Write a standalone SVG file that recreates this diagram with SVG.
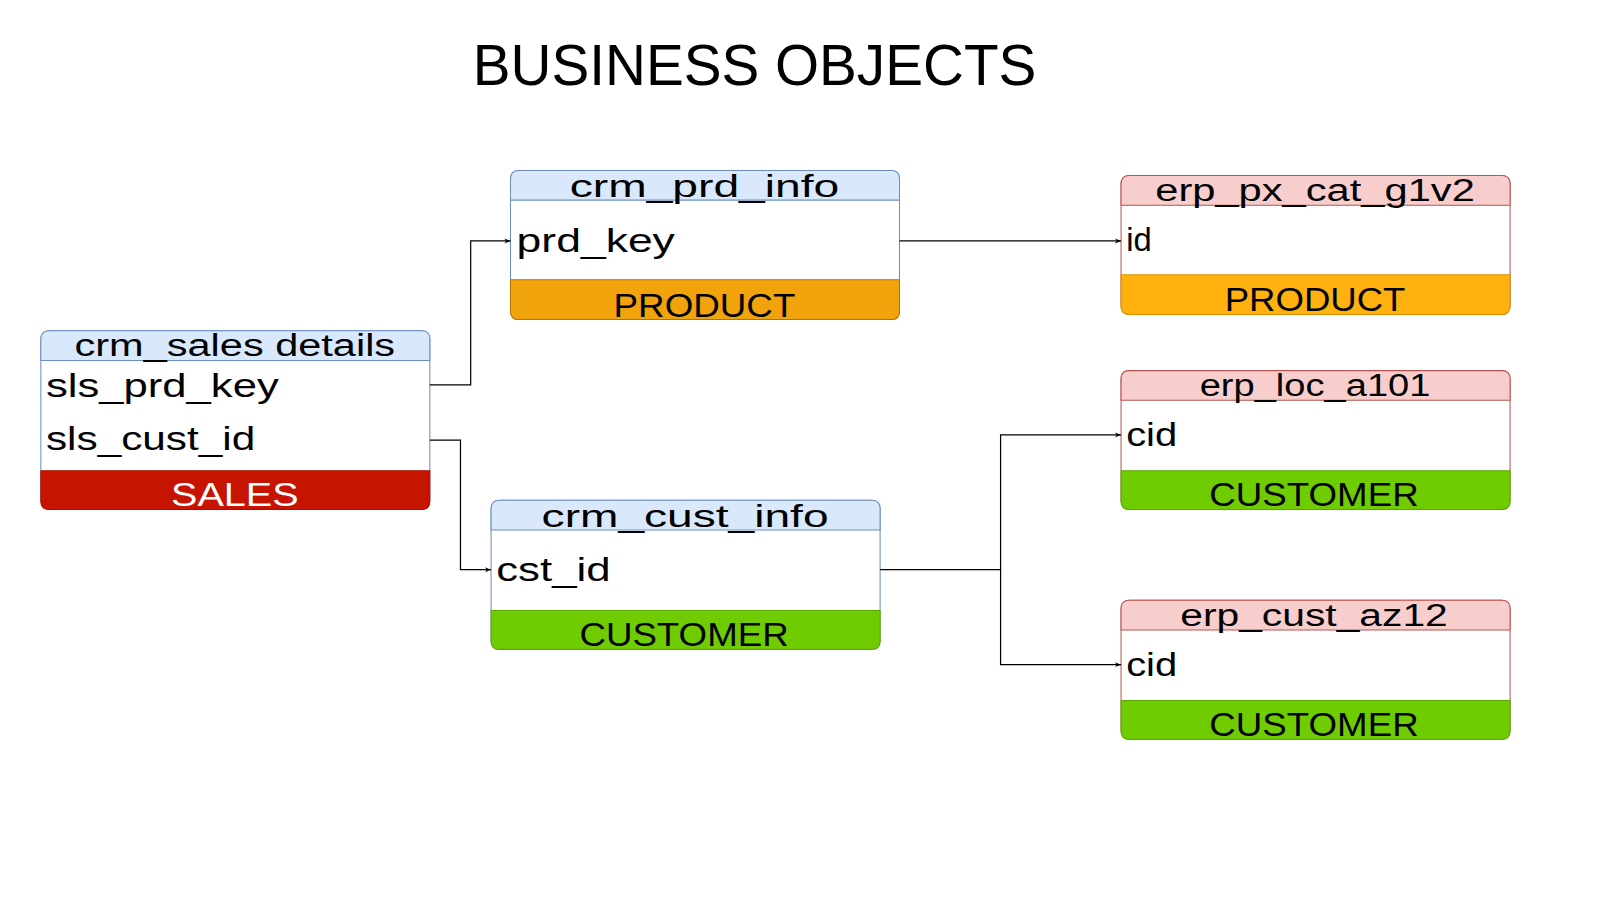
<svg xmlns="http://www.w3.org/2000/svg" width="1601" height="901" viewBox="0 0 1601 901">
<defs>
<style>
text{font-family:"Liberation Sans",Arial,sans-serif;fill:#000}
.title{font-size:56px}
.hdr{font-size:31px;text-anchor:middle}
.row{font-size:33px}
.ftr{font-size:33px;text-anchor:middle}
.body{fill:#fff}
.blue{stroke:#6c8ebf}
.pink{stroke:#b85450}
.hb{fill:#dae8fc;stroke:#6c8ebf}
.hp{fill:#f8cecc;stroke:#b85450}
.fred{fill:#c61400;stroke:#a81000}
.forg{fill:#f0a30a;stroke:#bd7000}
.fyel{fill:#ffb20f;stroke:#d89000}
.fgrn{fill:#6ecc00;stroke:#5aa800}
.conn{fill:none;stroke:#000;stroke-width:1.2}
</style>
<marker id="arr" viewBox="0 0 10 10" refX="10" refY="5" markerWidth="6" markerHeight="6" orient="auto" markerUnits="userSpaceOnUse">
<path d="M0,1 L10,5 L0,9 L3,5 Z" fill="#000"/>
</marker>
</defs>
<rect width="1601" height="901" fill="#fff"/>
<g transform="scale(1.021)">
<text class="title" x="463" y="83" textLength="552" lengthAdjust="spacingAndGlyphs">BUSINESS OBJECTS</text>

<g id="crm_sales_details">
<rect class="body blue" x="40" y="324" width="381" height="175" rx="8"/>
<path class="hb" d="M40,353 V332 Q40,324 48,324 H413 Q421,324 421,332 V353 Z"/>
<path class="fred" d="M40,461 H421 V491 Q421,499 413,499 H48 Q40,499 40,491 Z"/>
<text class="hdr" x="230" y="349" textLength="314" lengthAdjust="spacingAndGlyphs">crm_sales details</text>
<text class="row" x="45" y="389" textLength="228" lengthAdjust="spacingAndGlyphs">sls_prd_key</text>
<text class="row" x="45" y="441" textLength="205" lengthAdjust="spacingAndGlyphs">sls_cust_id</text>
<text class="ftr" x="230" y="496" textLength="125" lengthAdjust="spacingAndGlyphs" style="fill:#fff">SALES</text>
</g>

<g id="crm_prd_info">
<rect class="body blue" x="500" y="167" width="381" height="146" rx="8"/>
<path class="hb" d="M500,196 V175 Q500,167 508,167 H873 Q881,167 881,175 V196 Z"/>
<path class="forg" d="M500,274 H881 V305 Q881,313 873,313 H508 Q500,313 500,305 Z"/>
<text class="hdr" x="690" y="193" textLength="264" lengthAdjust="spacingAndGlyphs">crm_prd_info</text>
<text class="row" x="506" y="247" textLength="155" lengthAdjust="spacingAndGlyphs">prd_key</text>
<text class="ftr" x="690" y="310" textLength="178" lengthAdjust="spacingAndGlyphs">PRODUCT</text>
</g>

<g id="erp_px_cat_g1v2">
<rect class="body pink" x="1098" y="172" width="381" height="136" rx="8"/>
<path class="hp" d="M1098,201 V180 Q1098,172 1106,172 H1471 Q1479,172 1479,180 V201 Z"/>
<path class="fyel" d="M1098,269 H1479 V300 Q1479,308 1471,308 H1106 Q1098,308 1098,300 Z"/>
<text class="hdr" x="1288" y="197" textLength="313" lengthAdjust="spacingAndGlyphs">erp_px_cat_g1v2</text>
<text class="row" x="1103" y="246" textLength="25" lengthAdjust="spacingAndGlyphs">id</text>
<text class="ftr" x="1288" y="305" textLength="177" lengthAdjust="spacingAndGlyphs">PRODUCT</text>
</g>

<g id="crm_cust_info">
<rect class="body blue" x="481" y="490" width="381" height="146" rx="8"/>
<path class="hb" d="M481,519 V498 Q481,490 489,490 H854 Q862,490 862,498 V519 Z"/>
<path class="fgrn" d="M481,598 H862 V628 Q862,636 854,636 H489 Q481,636 481,628 Z"/>
<text class="hdr" x="671" y="516" textLength="281" lengthAdjust="spacingAndGlyphs">crm_cust_info</text>
<text class="row" x="486" y="569" textLength="112" lengthAdjust="spacingAndGlyphs">cst_id</text>
<text class="ftr" x="670" y="633" textLength="205" lengthAdjust="spacingAndGlyphs">CUSTOMER</text>
</g>

<g id="erp_loc_a101">
<rect class="body pink" x="1098" y="363" width="381" height="136" rx="8"/>
<path class="hp" d="M1098,392 V371 Q1098,363 1106,363 H1471 Q1479,363 1479,371 V392 Z"/>
<path class="fgrn" d="M1098,461 H1479 V491 Q1479,499 1471,499 H1106 Q1098,499 1098,491 Z"/>
<text class="hdr" x="1288" y="388" textLength="226" lengthAdjust="spacingAndGlyphs">erp_loc_a101</text>
<text class="row" x="1103" y="437" textLength="50" lengthAdjust="spacingAndGlyphs">cid</text>
<text class="ftr" x="1287" y="496" textLength="205" lengthAdjust="spacingAndGlyphs">CUSTOMER</text>
</g>

<g id="erp_cust_az12">
<rect class="body pink" x="1098" y="588" width="381" height="136" rx="8"/>
<path class="hp" d="M1098,617 V596 Q1098,588 1106,588 H1471 Q1479,588 1479,596 V617 Z"/>
<path class="fgrn" d="M1098,686 H1479 V716 Q1479,724 1471,724 H1106 Q1098,724 1098,716 Z"/>
<text class="hdr" x="1287" y="613" textLength="262" lengthAdjust="spacingAndGlyphs">erp_cust_az12</text>
<text class="row" x="1103" y="662" textLength="50" lengthAdjust="spacingAndGlyphs">cid</text>
<text class="ftr" x="1287" y="721" textLength="205" lengthAdjust="spacingAndGlyphs">CUSTOMER</text>
</g>

<g id="connectors">
<path class="conn" d="M421,377 H461 V236 H500" marker-end="url(#arr)"/>
<path class="conn" d="M421,431 H451 V558 H481" marker-end="url(#arr)"/>
<path class="conn" d="M881,236 H1098" marker-end="url(#arr)"/>
<path class="conn" d="M862,558 H980 V426 H1098" marker-end="url(#arr)"/>
<path class="conn" d="M980,558 V651 H1098" marker-end="url(#arr)"/>
</g>
</g>
</svg>
